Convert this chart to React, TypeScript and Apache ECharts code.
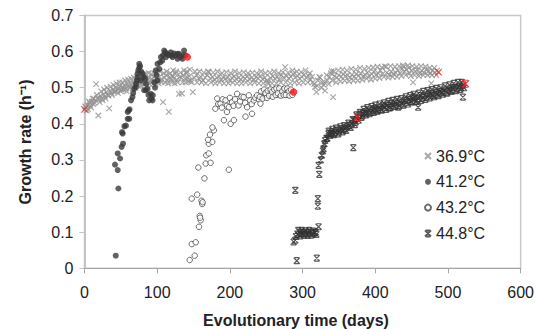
import React, { useEffect, useRef } from "react";
import * as echarts from "echarts";

const seriesNames = ["36.9°C", "41.2°C", "43.2°C", "44.8°C"];

const s369: number[][] = [
  [2,0.445],[4,0.452],[5,0.44],[7,0.458],[8,0.45],[10,0.462],[12,0.455],[13,0.47],[15,0.465],[16,0.51],[18,0.472],[19,0.423],[20,0.468],[22,0.478],[24,0.47],[26,0.482],[28,0.476],[30,0.488],[32,0.48],[34,0.443],[35,0.492],[37,0.485],[39,0.495],[41,0.488],[43,0.5],[45,0.492],[47,0.498],[49,0.505],[51,0.495],[53,0.502],[55,0.508],[57,0.498],[59,0.51],[61,0.503],[63,0.512],[65,0.505],[67,0.515],[69,0.508],[71,0.518],[73,0.51],[75,0.52],[77,0.512],[79,0.522],[81,0.515],[83,0.525],[85,0.512],[87,0.52],[89,0.528],[91,0.516],[93,0.524],[95,0.53],[97,0.518],[99,0.526],[101,0.52],[103,0.53],[105,0.522],[108,0.46],[110,0.528],[112,0.535],[114,0.52],[116,0.433],[117,0.53],[119,0.524],[121,0.532],[123,0.526],[125,0.538],[127,0.522],[130,0.483],[131,0.53],[133,0.528],[134,0.484],[136,0.535],[138,0.525],[140,0.54],[142,0.528],[144,0.532],[146,0.52],[149,0.488],[151,0.528],[154,0.535],[157,0.525],[160,0.53],[163,0.52],[166,0.528],[169,0.535],[171,0.543],[173,0.525],[176,0.53],[179,0.522],[182,0.528],[185,0.532],[188,0.522],[191,0.528],[194,0.525],[197,0.53],[200,0.52],[203,0.527],[206,0.532],[209,0.524],[212,0.528],[215,0.522],[218,0.53],[221,0.525],[224,0.532],[227,0.524],[230,0.528],[233,0.522],[236,0.53],[239,0.526],[242,0.533],[245,0.524],[248,0.528],[251,0.52],[253,0.511],[256,0.527],[259,0.532],[262,0.525],[265,0.53],[268,0.522],[271,0.535],[274,0.528],[276,0.557],[278,0.532],[281,0.526],[284,0.53],[287,0.538],[290,0.528],[293,0.533],[296,0.525],[299,0.53],[302,0.536],[305,0.528],[308,0.533],[311,0.522],[314,0.515],[317,0.502],[319,0.488],[321,0.52],[324,0.528],[327,0.515],[329,0.508],[331,0.492],[334,0.52],[337,0.53],[340,0.546],[342,0.474],[344,0.532],[347,0.528],[350,0.535],[353,0.53],[356,0.538],[359,0.532],[362,0.535],[365,0.528],[368,0.536],[371,0.53],[374,0.538],[377,0.533],[380,0.54],[383,0.53],[386,0.536],[389,0.542],[392,0.532],[395,0.538],[398,0.545],[401,0.535],[404,0.54],[407,0.548],[410,0.538],[413,0.559],[416,0.542],[419,0.536],[422,0.545],[425,0.538],[428,0.542],[431,0.548],[434,0.54],[437,0.553],[438,0.562],[440,0.545],[443,0.55],[445,0.562],[447,0.54],[450,0.548],[452,0.515],[455,0.545],[458,0.55],[461,0.54],[464,0.547],[467,0.542],[470,0.55],[473,0.545],[476,0.54],[477,0.512],[479,0.548],[482,0.542],[485,0.547],
  [1,0.448],[3,0.437],[6,0.462],[9,0.445],[11,0.47],[14,0.458],[17,0.48],[21,0.46],[23,0.49],[25,0.465],[27,0.495],[29,0.47],[31,0.5],[33,0.478],[36,0.503],[38,0.48],[40,0.508],[42,0.49],[44,0.512],[46,0.485],[48,0.515],[50,0.49],[52,0.515],[54,0.495],[56,0.52],[58,0.49],[60,0.522],[62,0.5],[64,0.525],[66,0.498],[68,0.528],[70,0.5],[72,0.53],[74,0.505],[76,0.532],[78,0.505],[80,0.535],[82,0.508],[84,0.538],[86,0.505],[88,0.54],[90,0.51],[92,0.538],[94,0.51],[96,0.54],[98,0.51],[100,0.542],[102,0.512],[104,0.545],[106,0.515],[109,0.54],[111,0.515],[113,0.545],[115,0.512],[118,0.54],[120,0.515],[122,0.548],[124,0.512],[126,0.545],[128,0.515],[132,0.542],[135,0.515],[137,0.548],[139,0.515],[141,0.545],[143,0.518],[145,0.55],[147,0.515],[152,0.545],[155,0.515],[158,0.545],[161,0.515],[164,0.542],[167,0.512],[170,0.545],[174,0.515],[177,0.542],[180,0.512],[183,0.545],[186,0.515],[189,0.54],[192,0.512],[195,0.543],[198,0.512],[201,0.54],[204,0.515],[207,0.545],[210,0.512],[213,0.54],[216,0.512],[219,0.543],[222,0.515],[225,0.54],[228,0.512],[231,0.542],[234,0.515],[237,0.54],[240,0.512],[243,0.545],[246,0.512],[249,0.54],[252,0.515],[255,0.542],[258,0.512],[261,0.545],[264,0.512],[267,0.54],[270,0.515],[273,0.543],[277,0.515],[280,0.542],[283,0.512],[286,0.548],[289,0.515],[292,0.545],[295,0.512],[298,0.543],[301,0.515],[304,0.548],[307,0.515],[310,0.54],[313,0.53],[316,0.51],[320,0.505],[323,0.53],[326,0.5],[330,0.515],[333,0.535],[336,0.51],[339,0.54],[341,0.52],[343,0.545],[346,0.515],[349,0.548],[352,0.518],[355,0.55],[358,0.52],[361,0.548],[364,0.518],[367,0.552],[370,0.52],[373,0.55],[376,0.52],[379,0.555],[382,0.522],[385,0.552],[388,0.525],[391,0.555],[394,0.522],[397,0.556],[400,0.525],[403,0.558],[406,0.527],[409,0.556],[412,0.53],[415,0.558],[418,0.528],[421,0.56],[424,0.53],[427,0.558],[430,0.53],[433,0.56],[436,0.532],[439,0.558],[442,0.535],[446,0.555],[449,0.532],[451,0.56],[454,0.535],[457,0.558],[460,0.532],[463,0.56],[466,0.535],[469,0.558],[472,0.535],[475,0.555],[478,0.535],[481,0.555],[484,0.535]
];
const red369: number[][] = [[0,0.44],[487,0.543]];

const s412: number[][] = [
  [43,0.035],[46.6,0.221],[45.7,0.272],[42,0.287],[48.9,0.304],[45.7,0.318],[51,0.336],[53,0.345],[52.5,0.373],[51.6,0.377],[54.8,0.393],[57,0.395],[59.4,0.414],[61.6,0.414],[59.4,0.433],[60.7,0.437],[62,0.44],[64,0.465],[66,0.474],[67,0.485],[68.5,0.497],[70.8,0.502],[70.8,0.511],[72,0.52],[73,0.529],[73,0.539],[74,0.548],[75.3,0.555],[75.3,0.566],[76.5,0.56],[77.6,0.52],[78,0.545],[80,0.539],[81,0.53],[82,0.493],[83.6,0.525],[84.5,0.511],[84.5,0.493],[86.7,0.497],[88,0.48],[89,0.465],[91.3,0.483],[92,0.47],[93.6,0.465],[94,0.479],[96,0.515],[97,0.5],[98,0.548],[99,0.535],[100.4,0.52],[100.4,0.566],[102.7,0.552],[104,0.57],[105,0.585],[107,0.575],[108,0.59],[109.6,0.603],[111,0.598],[112,0.585],[114,0.594],[116,0.59],[118.7,0.598],[120,0.589],[121,0.585],[123,0.595],[125.5,0.589],[127.8,0.594],[128,0.58],[130,0.594],[132,0.585],[134.7,0.58],[135,0.59],[137,0.603],[139,0.59]
];
const red412: number[][] = [[141.5,0.585]];

const s432: number[][] = [
  [144.7,0.023],[151.6,0.035],[147.5,0.067],[153,0.072],[157.5,0.115],[159.8,0.133],[158.5,0.145],[159,0.14],[162,0.178],[161,0.187],[162.5,0.183],[147.5,0.193],[155,0.204],[165,0.249],[198.6,0.273],[156.6,0.279],[166.7,0.29],[173.5,0.292],[167.5,0.313],[171,0.318],[171,0.345],[175.8,0.35],[170,0.356],[172.6,0.37],[178,0.382],[176,0.39],[191.8,0.41],[201,0.4],[205.5,0.41],[221.5,0.42],[230.5,0.428],[196,0.433],[180,0.442],[182.6,0.47],[184,0.455],[187,0.456],[189,0.445],[190,0.468],[194,0.465],[196,0.45],[198.6,0.446],[200,0.472],[203,0.46],[205,0.45],[207,0.468],[210,0.483],[212,0.451],[214,0.462],[216,0.475],[219,0.474],[221,0.458],[223.7,0.446],[226,0.479],[228,0.465],[230,0.455],[233,0.465],[235,0.472],[237.4,0.479],[240,0.468],[242,0.456],[244,0.48],[246.6,0.488],[248,0.475],[250,0.48],[253.4,0.483],[255,0.49],[257,0.478],[260,0.485],[262.6,0.488],[265,0.492],[267,0.48],[269,0.49],[271.6,0.483],[273,0.495],[276,0.488],[278.5,0.493],[280,0.48],[283,0.49],[285,0.485],
  [241,0.475],[243,0.49],[245,0.47],[247,0.495],[249,0.485],[251,0.472],[252,0.492],[254,0.478],[256,0.495],[258,0.488],[259,0.475],[261,0.495],[263,0.48],[264,0.498],[266,0.485],[268,0.498],[270,0.478],[272,0.49],[274,0.48],[275,0.498],[277,0.48],[279,0.498],[281,0.49],[282,0.478],[284,0.495],[286,0.48]
];
const red432: number[][] = [[287.7,0.488]];

const s448: number[][] = [
  [287.7,0.073],[290,0.078],[292,0.021],[290,0.216],[293,0.095],[296,0.1],[298,0.095],[300,0.098],[303,0.1],[305,0.095],[308,0.098],[311,0.1],[314,0.096],[317,0.098],[319,0.094],[319.6,0.028],[322,0.115],[321,0.172],[321,0.193],[323,0.26],[322,0.285],[325,0.3],[326.5,0.313],[328,0.325],[328.8,0.331],[330,0.345],[331,0.354],[333,0.36],[335.6,0.373],[338,0.368],[340,0.378],[342,0.372],[344.7,0.377],[347,0.382],[350,0.378],[353,0.386],[356,0.383],[358.4,0.387],[361,0.392],[364,0.395],[367.6,0.4],[369.8,0.334],[371,0.41],[373,0.405],[378,0.425],[381,0.418],[383,0.43],[385.8,0.433],[388,0.428],[391,0.438],[394,0.432],[397,0.44],[399.6,0.442],[402,0.436],[405,0.445],[408,0.44],[411,0.45],[413,0.446],[416,0.452],[419,0.444],[422,0.456],[425,0.45],[428,0.458],[431.5,0.446],[434,0.46],[437,0.455],[440.6,0.465],[443,0.46],[446,0.468],[449,0.462],[452,0.472],[454,0.474],[457,0.466],[459,0.446],[459,0.47],[462,0.478],[465,0.472],[468,0.48],[471,0.475],[474,0.485],[477,0.483],[480,0.478],[483,0.488],[486,0.482],[489,0.49],[492,0.486],[495.5,0.493],[498,0.488],[501,0.496],[504,0.492],[506,0.5],[509,0.502],[512,0.496],[515,0.505],[518,0.5],[520.5,0.474],[521,0.508],
  [291,0.088],[294,0.105],[297,0.09],[299,0.105],[302,0.092],[304,0.104],[307,0.091],[309,0.105],[312,0.092],[315,0.103],[318,0.1],
  [334,0.36],[336,0.38],[339,0.372],[341,0.385],[343,0.37],[346,0.388],[349,0.372],[352,0.392],[355,0.378],[357,0.395],[360,0.382],[363,0.402],[366,0.39],[369,0.412],[372,0.398],[374,0.425],[377,0.41],[379,0.432],[382,0.422],[384,0.44],[387,0.425],[389,0.445],[392,0.428],[395,0.448],[398,0.432],[400,0.452],[403,0.435],[406,0.455],[409,0.438],[412,0.458],[415,0.44],[418,0.462],[421,0.445],[424,0.465],[427,0.448],[430,0.468],[433,0.45],[436,0.47],[439,0.452],[442,0.475],[445,0.455],[448,0.478],[451,0.46],[453,0.482],[456,0.462],[460,0.485],[463,0.465],[466,0.49],[469,0.468],[472,0.492],[475,0.472],[478,0.495],[481,0.475],[484,0.498],[487,0.478],[490,0.5],[493,0.482],[496,0.505],[499,0.485],[502,0.508],[505,0.49],[508,0.512],[511,0.492],[514,0.515],[517,0.495],[519,0.515],[522,0.5]
];
const red448: number[][] = [[375.3,0.419],[524,0.511]];

const xTicks = { min: 0, max: 600, interval: 100 };
const yTicks = { min: 0, max: 0.7, interval: 0.1 };

const FONT = '"Liberation Sans", Arial, sans-serif';
const RED = "#ff1a1a";
const xMark = "path://M0,0L10,10M10,0L0,10";
const starMark = "path://M0,0L10,10M10,0L0,10M1,0L9,0M1,10L9,10";

function withRed(pts: number[][], reds: number[][], size: number) {
  return [
    ...pts,
    ...reds.map((p) => ({
      value: p,
      symbolSize: size,
      itemStyle: { color: RED, borderColor: RED },
    })),
  ];
}

export default function App() {
  const ref = useRef<HTMLDivElement>(null);
  useEffect(() => {
    if (!ref.current) return;
    const chart = echarts.init(ref.current, undefined, { renderer: "svg" });
    chart.setOption({
      animation: false,
      textStyle: { fontFamily: FONT },
      grid: {
        left: 84.5,
        right: 13.5,
        top: 15.5,
        bottom: 60.7,
        show: true,
        borderColor: "#c8c8c8",
        borderWidth: 1.5,
      },
      xAxis: {
        type: "value",
        ...xTicks,
        splitLine: { show: false },
        axisLine: { show: true, lineStyle: { color: "#a6a6a6", width: 1.2 } },
        axisTick: { show: true, length: 5, lineStyle: { color: "#a6a6a6" } },
        axisLabel: { fontSize: 16, color: "#222", margin: 16, fontFamily: FONT },
      },
      yAxis: {
        type: "value",
        ...yTicks,
        splitLine: { show: false },
        axisLine: { show: true, lineStyle: { color: "#c4c4c4", width: 2 } },
        axisTick: { show: true, length: 5, lineStyle: { color: "#c4c4c4" } },
        axisLabel: {
          fontSize: 16,
          color: "#222",
          margin: 11,
          fontFamily: FONT,
          formatter: (v: number) => (v === 0 ? "0" : v.toFixed(1)),
        },
      },
      legend: {
        orient: "vertical",
        left: 419,
        top: 143,
        itemWidth: 6,
        itemHeight: 6,
        itemGap: 9.8,
        textStyle: { fontSize: 16, color: "#222", fontFamily: FONT },
        data: seriesNames,
      },
      graphic: [
        {
          type: "text",
          x: 296,
          y: 320,
          style: {
            text: "Evolutionary time (days)",
            fontSize: 16,
            fontWeight: "bold",
            fontFamily: FONT,
            fill: "#222",
            align: "center",
            verticalAlign: "middle",
          },
        },
        {
          type: "text",
          x: 25,
          y: 142,
          rotation: Math.PI / 2,
          style: {
            text: "Growth rate (h⁻¹)",
            fontSize: 16,
            fontWeight: "bold",
            fontFamily: FONT,
            fill: "#222",
            align: "center",
            verticalAlign: "middle",
          },
        },
      ],
      series: [
        {
          name: seriesNames[0],
          type: "scatter",
          symbol: xMark,
          symbolSize: 5.5,
          itemStyle: { color: "#929292", borderColor: "#929292", borderWidth: 1.2 },
          data: withRed(s369, red369, 6.5),
        },
        {
          name: seriesNames[1],
          type: "scatter",
          symbol: "circle",
          symbolSize: 6,
          itemStyle: { color: "#3a3a3a" },
          data: withRed(s412, red412, 6.5),
        },
        {
          name: seriesNames[2],
          type: "scatter",
          symbol: "circle",
          symbolSize: 5.5,
          itemStyle: { color: "#ffffff", borderColor: "#4a4a4a", borderWidth: 1 },
          data: withRed(s432, red432, 6.5),
        },
        {
          name: seriesNames[3],
          type: "scatter",
          symbol: starMark,
          symbolSize: 6,
          itemStyle: { color: "#333333", borderColor: "#333333", borderWidth: 1.2 },
          data: withRed(s448, red448, 7),
        },
      ],
    });
    return () => chart.dispose();
  }, []);
  return <div ref={ref} style={{ width: 537, height: 329, position: "absolute", left: 0, top: 0 }} />;
}
